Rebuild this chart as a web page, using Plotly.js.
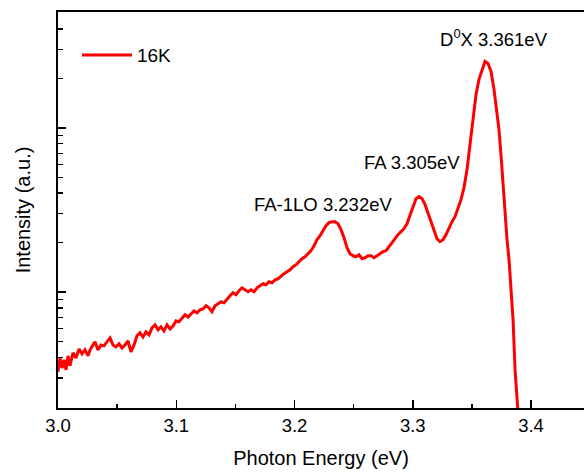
<!DOCTYPE html>
<html>
<head>
<meta charset="utf-8">
<script src="https://cdn.plot.ly/plotly-3.0.1.min.js"></script>
<style>html,body{margin:0;padding:0;background:#fff;}#chart{width:584px;height:472px;}</style>
</head>
<body>
<div id="chart"></div>
<script>
// Photon energy (eV)
const energy = [
3.0000,3.0017,3.0034,3.0051,3.0068,3.0085,3.0101,3.0127,3.0152,3.0178,
3.0203,3.0228,3.0254,3.0271,3.0296,3.0313,3.0338,3.0364,3.0389,3.0414,
3.0440,3.0465,3.0490,3.0516,3.0541,3.0567,3.0592,3.0617,3.0643,3.0668,
3.0693,3.0719,3.0744,3.0770,3.0795,3.0820,3.0846,3.0871,3.0896,3.0922,
3.0947,3.0973,3.0998,3.1023,3.1049,3.1074,3.1099,3.1125,3.1150,3.1175,
3.1201,3.1226,3.1252,3.1277,3.1302,3.1328,3.1353,3.1378,3.1404,3.1429,
3.1455,3.1480,3.1505,3.1531,3.1556,3.1581,3.1607,3.1632,3.1658,3.1683,
3.1708,3.1734,3.1759,3.1784,3.1810,3.1835,3.1860,3.1886,3.1911,3.1937,
3.1962,3.1987,3.2013,3.2038,3.2063,3.2089,3.2114,3.2140,3.2165,3.2190,
3.2216,3.2241,3.2266,3.2292,3.2317,3.2342,3.2368,3.2393,3.2419,3.2444,
3.2469,3.2495,3.2520,3.2545,3.2571,3.2596,3.2622,3.2647,3.2672,3.2698,
3.2723,3.2748,3.2774,3.2799,3.2824,3.2850,3.2875,3.2901,3.2926,3.2951,
3.2977,3.3002,3.3027,3.3053,3.3078,3.3104,3.3129,3.3154,3.3180,3.3205,
3.3230,3.3256,3.3281,3.3307,3.3332,3.3357,3.3383,3.3408,3.3433,3.3459,
3.3484,3.3510,3.3535,3.3560,3.3586,3.3611,3.3636,3.3662,3.3687,3.3712,
3.3729,3.3746,3.3763,3.3780,3.3797,3.3814,3.3831,3.3848,3.3865,3.3882,
3.3899
];
// PL intensity (a.u.) at 16 K
const intensity16K = [
327,397,345,387,336,409,356,427,397,451,
421,445,409,445,477,498,445,477,471,498,
526,477,464,484,457,477,505,433,477,542,
565,533,573,549,605,632,589,614,581,632,
597,622,668,659,697,727,706,738,769,748,
780,791,826,803,759,826,849,873,861,910,
949,991,963,1019,1062,1033,1004,1033,1004,1062,
1092,1124,1108,1156,1140,1189,1205,1257,1294,1330,
1368,1426,1467,1531,1596,1641,1713,1787,1915,2084,
2203,2366,2535,2648,2683,2683,2607,2398,2143,1862,
1713,1664,1641,1688,1596,1618,1664,1664,1618,1664,
1713,1762,1787,1888,2027,2143,2235,2333,2432,2607,
2960,3357,3707,3811,3707,3406,3048,2683,2366,2113,
2027,2084,2235,2466,2683,2877,3221,3654,4325,5570,
7910,11250,15950,19720,22690,25370,24660,22030,17140,12050,
9770,6870,4510,3048,2084,1574,1033,678,336,197,
150
];
const seriesName = "16K";
const xTickVals = [3.0, 3.1, 3.2, 3.3, 3.4];
const xTickText = ["3.0", "3.1", "3.2", "3.3", "3.4"];
const yMajorVals = [1000, 10000];
const yMinorVals = [300,400,500,600,700,800,900,2000,3000,4000,5000,6000,7000,8000,9000,20000,30000,40000];
const peakLabels = ["D<sup>0</sup>X 3.361eV", "FA 3.305eV", "FA-1LO 3.232eV"];

const font = "Liberation Sans, Arial, sans-serif";

const trace = {
  x: energy, y: intensity16K, type: "scatter", mode: "lines", name: seriesName,
  line: {color: "#ff0000", width: 3}
};

const layout = {
  width: 584, height: 472,
  margin: {l: 58, r: 0, t: 12, b: 64},
  paper_bgcolor: "#fff", plot_bgcolor: "#fff",
  font: {family: font, color: "#000", size: 18},
  showlegend: true,
  legend: {x: 0.036, y: 0.939, xanchor: "left", yanchor: "top", bgcolor: "rgba(0,0,0,0)",
           font: {family: font, size: 19, color: "#000"}, itemwidth: 50},
  xaxis: {
    range: [3.0, 3.4448], tickmode: "array", tickvals: xTickVals, ticktext: xTickText,
    ticks: "inside", ticklen: 8, tickwidth: 1.5, tickcolor: "#000",
    minor: {dtick: 0.05, tick0: 3.0, ticks: "inside", ticklen: 4, tickwidth: 1.5, tickcolor: "#000"},
    showline: true, linecolor: "#000", linewidth: 2, mirror: true,
    showgrid: false, zeroline: false,
    tickfont: {family: font, size: 18.5, color: "#000"},
    title: {text: "Photon Energy (eV)", font: {family: font, size: 20, color: "#000"}, standoff: 16}
  },
  yaxis: {
    type: "log", range: [2.2945, 4.705],
    tickmode: "array", tickvals: yMajorVals, showticklabels: false,
    ticks: "inside", ticklen: 8, tickwidth: 1.5, tickcolor: "#000",
    minor: {tickmode: "array", tickvals: yMinorVals, ticks: "inside", ticklen: 5, tickwidth: 1.5, tickcolor: "#000"},
    showline: true, linecolor: "#000", linewidth: 2, mirror: false,
    showgrid: false, zeroline: false,
    title: {text: "Intensity (a.u.)", font: {family: font, size: 20, color: "#000"}, standoff: 20}
  },
  annotations: [
    {text: peakLabels[0], x: 3.3683, y: 0.970, xref: "x", yref: "paper", showarrow: false, font: {family: font, size: 18.5, color: "#000"}},
    {text: peakLabels[1], x: 3.2994, y: 0.621, xref: "x", yref: "paper", showarrow: false, font: {family: font, size: 18.5, color: "#000"}},
    {text: peakLabels[2], x: 3.2241, y: 0.515, xref: "x", yref: "paper", showarrow: false, font: {family: font, size: 18.5, color: "#000"}}
  ]
};

Plotly.newPlot("chart", [trace], layout, {displayModeBar: false, staticPlot: true});
</script>
</body>
</html>
